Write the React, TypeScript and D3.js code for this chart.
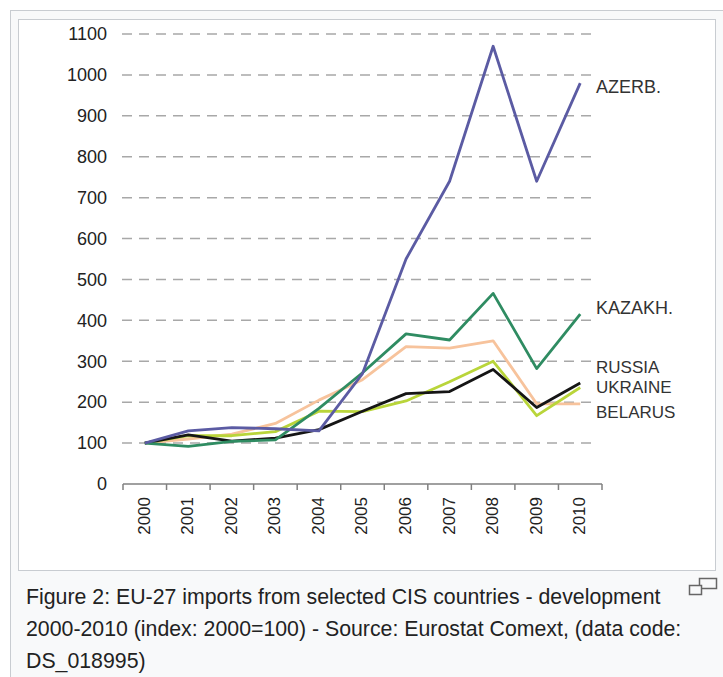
import React from "react";
import * as d3 from "d3";

const years = ["2000","2001","2002","2003","2004","2005","2006","2007","2008","2009","2010"];
const yTicks = [0,100,200,300,400,500,600,700,800,900,1000,1100];
const azerb = [100,130,138,135,130,270,550,740,1070,740,980];
const kazakh = [100,92,104,108,185,272,367,352,466,282,415];
const belarus = [100,110,122,148,205,255,336,332,350,196,196];
const ukraine = [100,118,118,128,178,177,203,250,300,167,236];
const russia = [100,120,105,112,133,178,221,226,280,187,247];
const seriesNames = ["BELARUS","UKRAINE","RUSSIA","KAZAKH.","AZERB."];
const seriesColors = ["#f7c39c","#b9d53a","#151515","#2f8c62","#5b5ba3"];
const labelNames = ["AZERB.","KAZAKH.","RUSSIA","UKRAINE","BELARUS"];
const labelValues = [970,430,285,238,177];
const caption = [
  "Figure 2: EU-27 imports from selected CIS countries - development",
  "2000-2010 (index: 2000=100) - Source: Eurostat Comext, (data code:",
  "DS_018995)",
];

export default function App() {
  const W = 723, H = 677;
  const x = d3.scaleBand<string>().domain(years).range([123, 602]);
  const y = d3.scaleLinear().domain([0, 1100]).range([484, 34]);
  const allSeries = [belarus, ukraine, russia, kazakh, azerb];
  const line = d3.line<number>()
    .x((_, i) => (x(years[i]) as number) + x.bandwidth() / 2)
    .y(d => y(d));
  const font = "'Liberation Sans', Arial, sans-serif";
  const bounds = [...years.map(yr => x(yr) as number), 602];
  return (
    <div style={{ position: "absolute", left: 0, top: 0 }}>
      <svg width={W} height={H} style={{ display: "block" }}>
        <rect x={0} y={0} width={W} height={H} fill="#ffffff" />
        <rect x={10.5} y={10.5} width={730} height={700} fill="#f8f9fa" stroke="#c8ccd1" />
        <rect x={18.5} y={19.5} width={697} height={551} fill="#ffffff" stroke="#c8ccd1" />
        {yTicks.filter(t => t > 0).map(t => (
          <line key={t} x1={122} x2={597} y1={y(t)} y2={y(t)} stroke="#a8a8a8" strokeWidth={1.5} strokeDasharray="10 7" />
        ))}
        {yTicks.map(t => (
          <text key={t} x={107} y={y(t)} dy="0.35em" textAnchor="end" fontFamily={font} fontSize={18} fill="#222">{t}</text>
        ))}
        <line x1={123} x2={602} y1={484} y2={484} stroke="#808080" strokeWidth={1.5} />
        {bounds.map((b, i) => (
          <line key={i} x1={b} x2={b} y1={484} y2={490} stroke="#808080" strokeWidth={1.5} />
        ))}
        {years.map(yr => {
          const cx = (x(yr) as number) + x.bandwidth() / 2;
          return (
            <text key={yr} transform={`translate(${cx - 1},497) rotate(-90)`} textAnchor="end" dy="0.35em" fontFamily={font} fontSize={17} fill="#222">{yr}</text>
          );
        })}
        {allSeries.map((s, i) => (
          <path key={seriesNames[i]} d={line(s) as string} fill="none" stroke={seriesColors[i]} strokeWidth={2.8} strokeLinejoin="round" />
        ))}
        {labelNames.map((n, i) => (
          <text key={n} x={596} y={y(labelValues[i])} dy="0.35em" fontFamily={font} fontSize={i >= 2 ? 17 : 18} fill="#333">{n}</text>
        ))}
        {caption.map((c, i) => (
          <text key={i} x={26} y={604 + i * 32} fontFamily={font} fontSize={21.3} fill="#222">{c}</text>
        ))}
        <g fill="none" stroke="#666" strokeWidth={1.5}>
          <rect x={699.5} y={578.5} width={17} height={10} fill="#f8f9fa" />
          <rect x={689.5} y={585.5} width={12} height={9} fill="#f8f9fa" />
        </g>
      </svg>
    </div>
  );
}
